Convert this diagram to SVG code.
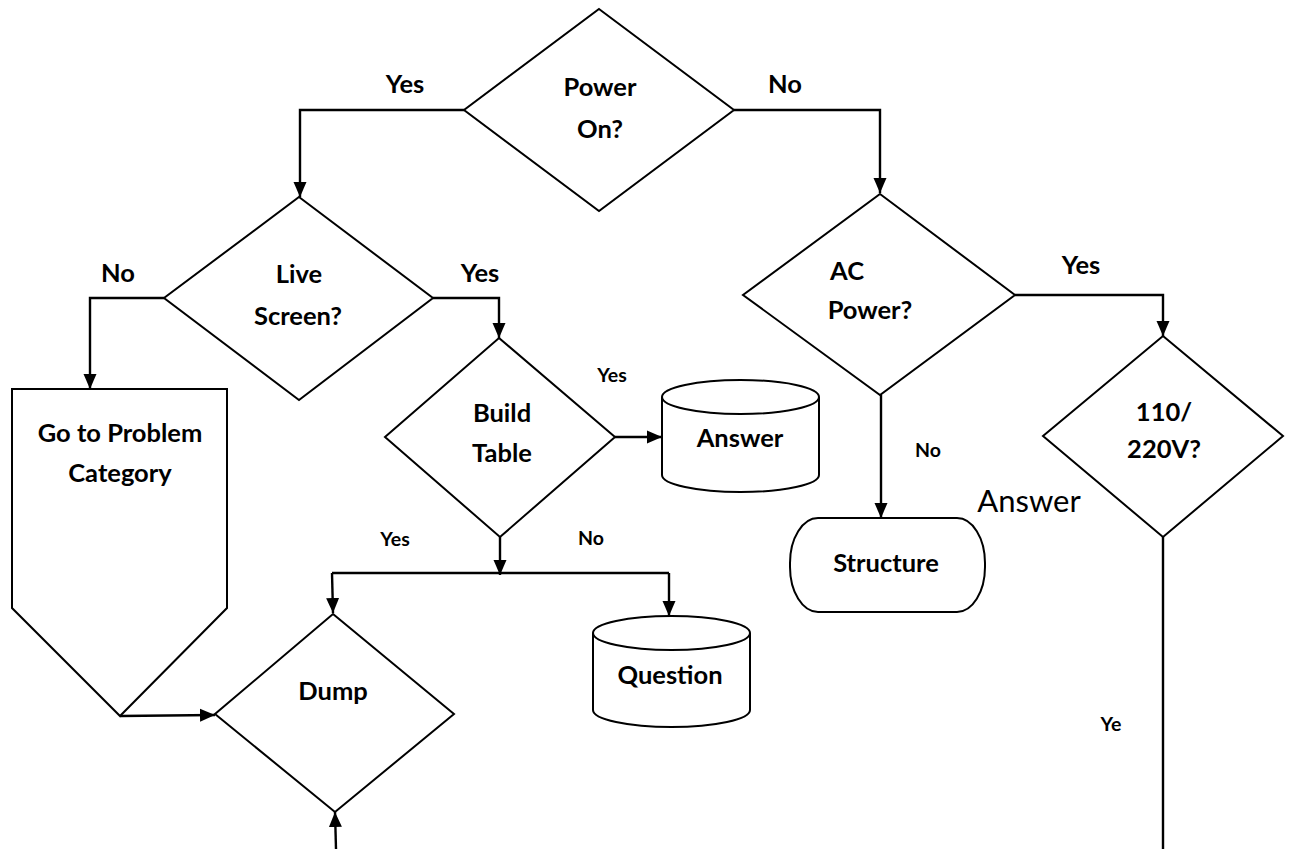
<svg xmlns="http://www.w3.org/2000/svg" width="1290" height="849" viewBox="0 0 1290 849">
  <style>
    .shape { fill: #fff; stroke: #000; stroke-width: 2; }
    .edge { fill: none; stroke: #000; stroke-width: 2.4; }
    text { font-family: "Lato", "Liberation Sans", sans-serif; fill: #000; text-anchor: middle; dominant-baseline: central; }
    .t { font-size: 25.5px; font-weight: bold; }
    .lbl { font-size: 25.5px; font-weight: bold; }
    .sm { font-size: 19.5px; font-weight: bold; }
    .plain { font-size: 31px; }
  </style>
  <defs>
    <marker id="arrow" markerUnits="userSpaceOnUse" markerWidth="16" markerHeight="16" viewBox="0 0 16 16" refX="15" refY="8" orient="auto">
      <path d="M0,1.5 L15,8 L0,14.5 Z" fill="#000"/>
    </marker>
  </defs>

  <rect width="1290" height="849" fill="#fff"/>

  <!-- connectors -->
  <g id="connectors">
    <path class="edge" d="M464,110 H300 V197" marker-end="url(#arrow)"/>
    <path class="edge" d="M734,110 H880 V193" marker-end="url(#arrow)"/>
    <path class="edge" d="M164,298 H90 V389" marker-end="url(#arrow)"/>
    <path class="edge" d="M433,298 H499 V338" marker-end="url(#arrow)"/>
    <path class="edge" d="M615,437 H662" marker-end="url(#arrow)"/>
    <path class="edge" d="M500,537 V575" marker-end="url(#arrow)"/>
    <path class="edge" d="M332,573 H669"/>
    <path class="edge" d="M332,573 L333,613" marker-end="url(#arrow)"/>
    <path class="edge" d="M669,573 V616" marker-end="url(#arrow)"/>
    <path class="edge" d="M120,716 L215,715" marker-end="url(#arrow)"/>
    <path class="edge" d="M336,849 L335,812" marker-end="url(#arrow)"/>
    <path class="edge" d="M1015,295 H1163 V336" marker-end="url(#arrow)"/>
    <path class="edge" d="M881,395 V518" marker-end="url(#arrow)"/>
    <path class="edge" d="M1163,537 V849"/>
  </g>

  <!-- decisions -->
  <g id="power-on">
    <polygon class="shape" points="599,9 734,110 599,211 464,110"/>
    <text class="t" x="600" y="86">Power</text>
    <text class="t" x="600" y="128">On?</text>
  </g>

  <g id="live-screen">
    <polygon class="shape" points="299,197 433,298 299,400 164,298"/>
    <text class="t" x="299" y="273">Live</text>
    <text class="t" x="298" y="315">Screen?</text>
  </g>

  <g id="build-table">
    <polygon class="shape" points="499,338 615,437 500,537 385,437"/>
    <text class="t" x="502" y="412">Build</text>
    <text class="t" x="502" y="452">Table</text>
  </g>

  <g id="dump">
    <polygon class="shape" points="333,614 454,714 335,812 215,714"/>
    <text class="t" x="333" y="690">Dump</text>
  </g>

  <g id="ac-power">
    <polygon class="shape" points="880,194 1015,295 880,395 743,295"/>
    <text class="t" x="847" y="270">AC</text>
    <text class="t" x="870" y="309">Power?</text>
  </g>

  <g id="voltage">
    <polygon class="shape" points="1163,336 1283,436 1163,537 1043,436"/>
    <text class="t" x="1164" y="411">110/</text>
    <text class="t" x="1164" y="448">220V?</text>
  </g>

  <!-- off-page connector -->
  <g id="problem-category">
    <path class="shape" d="M12,389 H227 V608 L120,716 L12,608 Z"/>
    <text class="t" x="120" y="432">Go to Problem</text>
    <text class="t" x="120" y="472">Category</text>
  </g>

  <!-- data stores -->
  <g id="answer-store">
    <path class="shape" d="M662,397 V475 A78.5,17 0 0 0 819,475 V397"/>
    <ellipse class="shape" cx="740.5" cy="397" rx="78.5" ry="17"/>
    <text class="t" x="740" y="437">Answer</text>
  </g>

  <g id="question-store">
    <path class="shape" d="M593,633 V710 A78.5,17 0 0 0 750,710 V633"/>
    <ellipse class="shape" cx="671.5" cy="633" rx="78.5" ry="17"/>
    <text class="t" x="670" y="674">Question</text>
  </g>

  <g id="structure">
    <rect class="shape" x="790" y="518" width="195" height="94" rx="28" ry="45"/>
    <text class="t" x="886" y="562">Structure</text>
  </g>

  <!-- branch labels -->
  <g id="labels">
    <text class="lbl" x="405" y="83">Yes</text>
    <text class="lbl" x="785" y="83">No</text>
    <text class="lbl" x="118" y="272">No</text>
    <text class="lbl" x="480" y="272">Yes</text>
    <text class="sm" x="612" y="374">Yes</text>
    <text class="sm" x="395" y="538">Yes</text>
    <text class="sm" x="591" y="537">No</text>
    <text class="lbl" x="1081" y="264">Yes</text>
    <text class="sm" x="928" y="449">No</text>
    <text class="plain" x="1029" y="500">Answer</text>
    <text class="sm" x="1111" y="723">Ye</text>
  </g>
</svg>
